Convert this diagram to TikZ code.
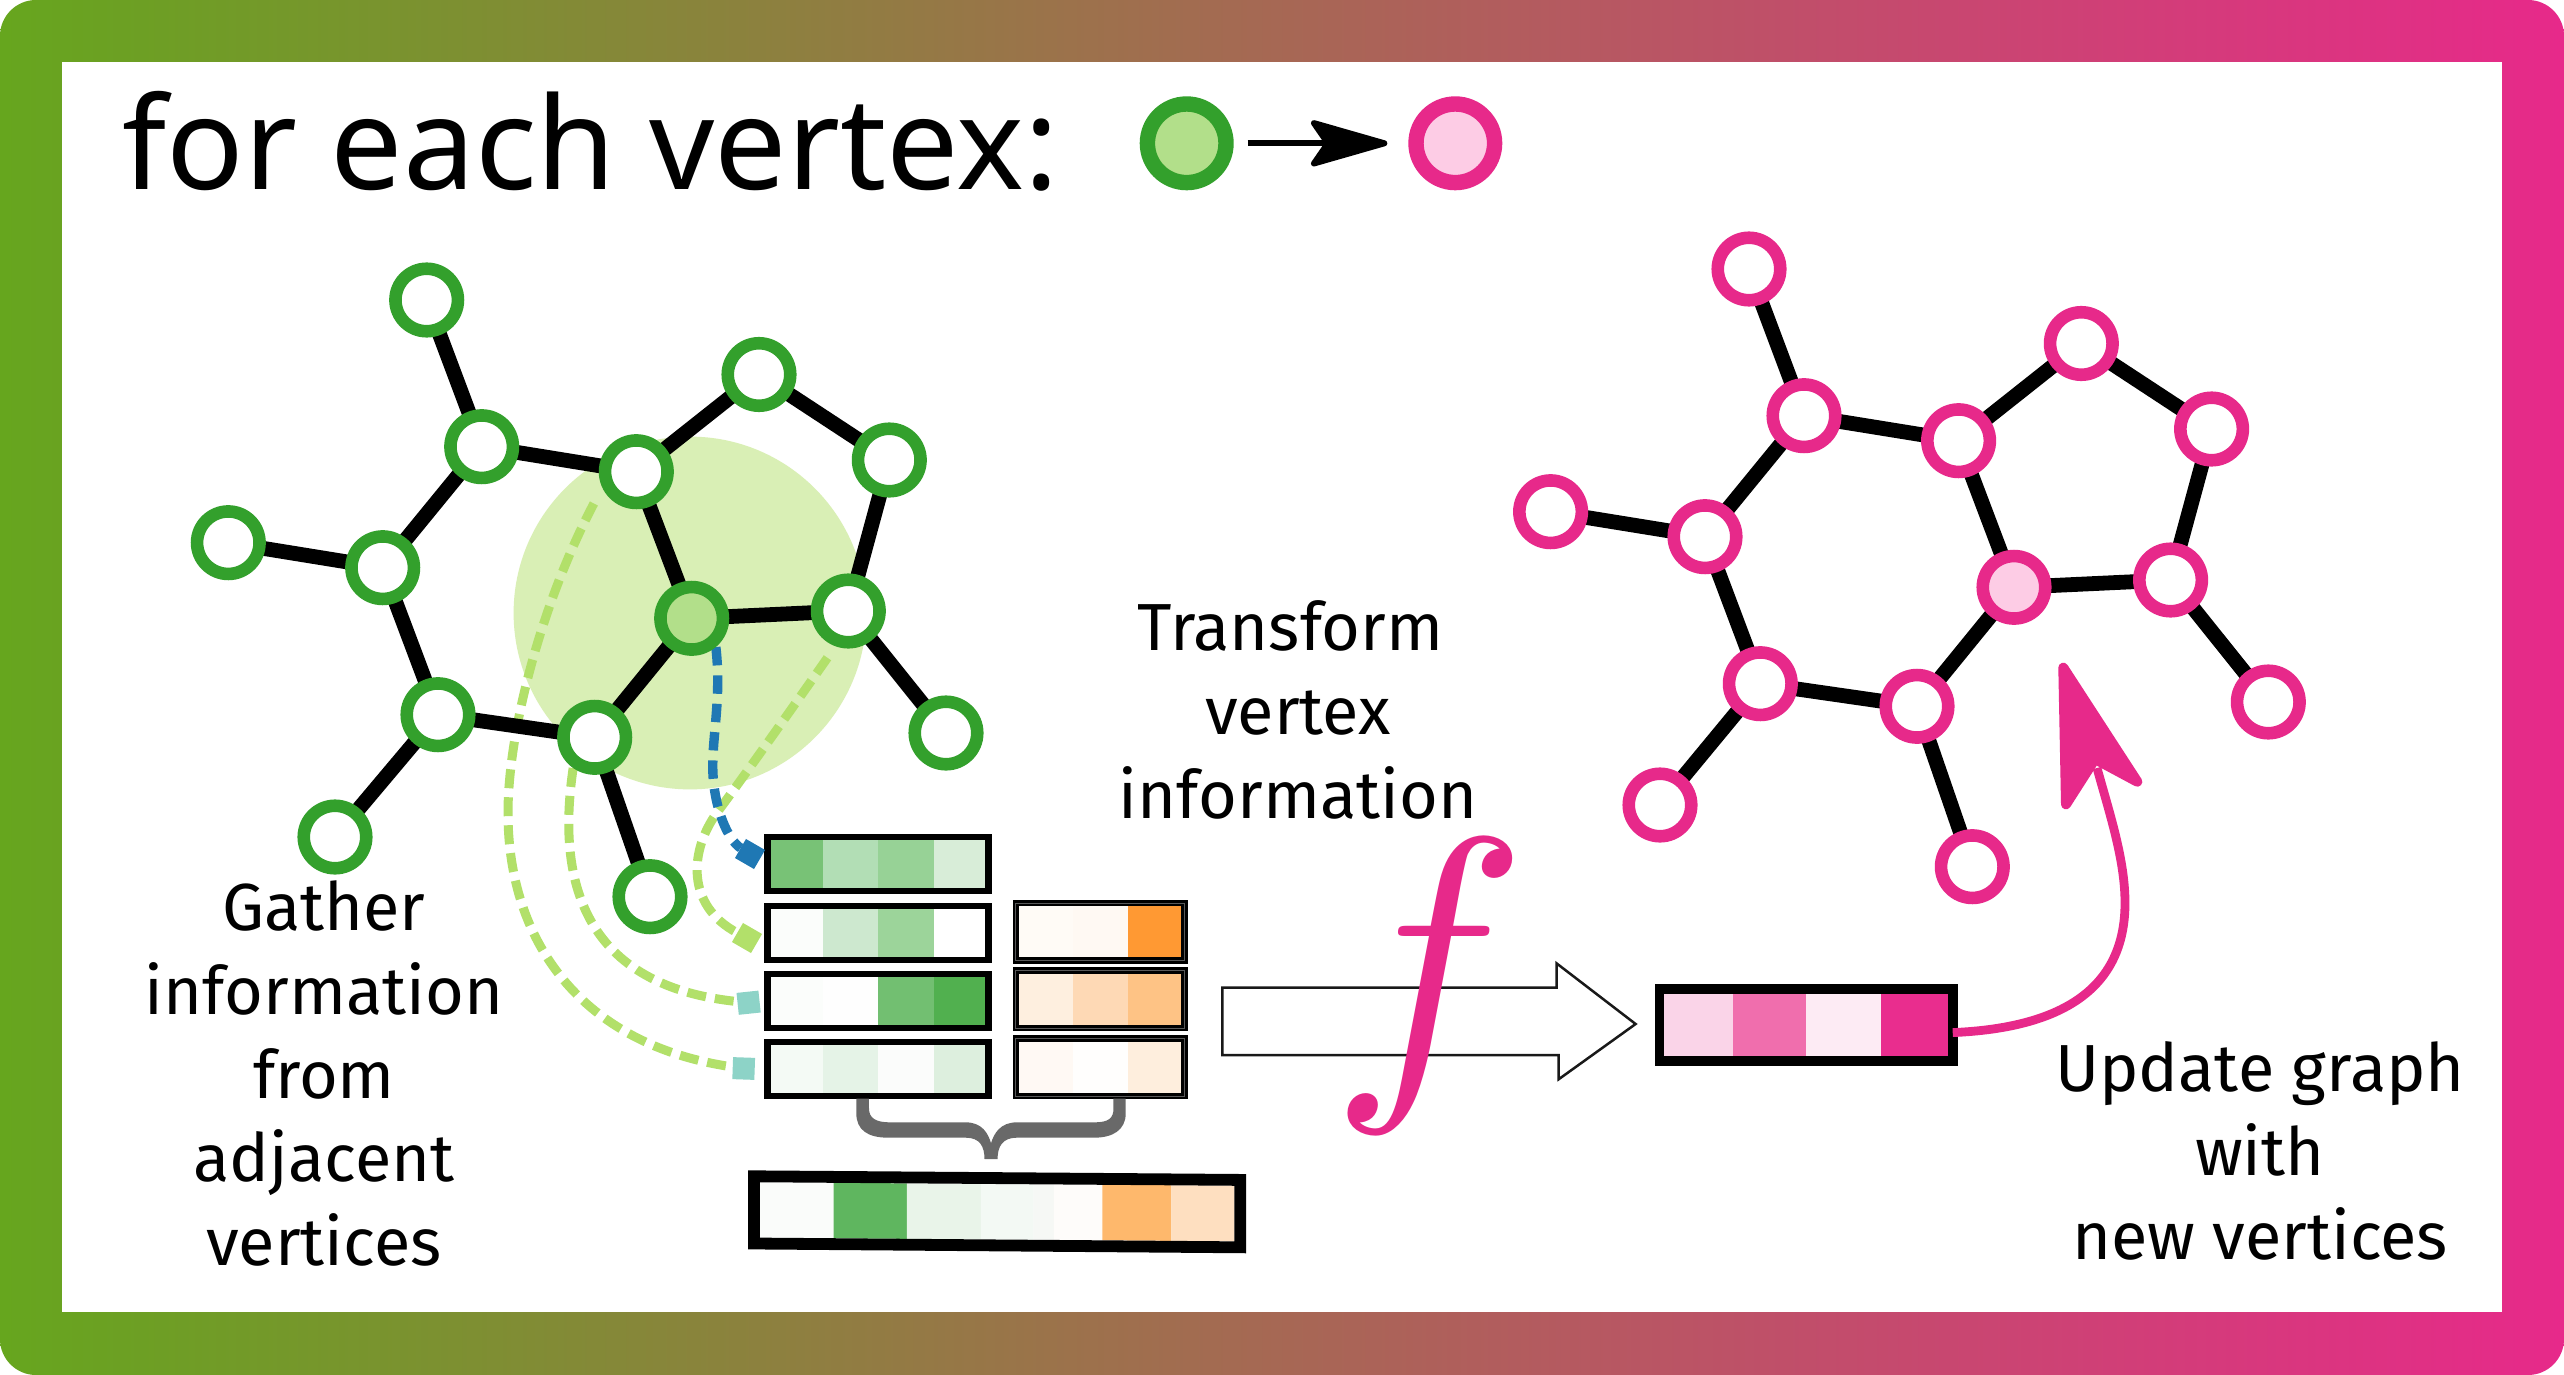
\documentclass[tikz,border=0pt]{standalone}
\usepackage{fontspec}
\setmainfont{Fira Sans}
\newfontfamily\titlefont{Noto Sans}
\usetikzlibrary{arrows.meta}
\definecolor{framegreen}{HTML}{66A61E}
\definecolor{pinkc}{HTML}{E7298A}
\definecolor{greenc}{HTML}{33A02C}
\definecolor{lightg}{HTML}{B2DF8A}
\definecolor{dashg}{HTML}{B2E06A}
\definecolor{lightp}{HTML}{FDCCE5}
\definecolor{haloc}{HTML}{D9EFB5}
\definecolor{bluec}{HTML}{1F78B4}
\definecolor{tealc}{HTML}{8DD3C7}
\definecolor{bracec}{HTML}{696969}
\definecolor{tmpc}{HTML}{FFFFFF}
\pgfdeclarelayer{under}
\pgfdeclarelayer{mid}
\pgfsetlayers{under,mid,main}
\newcommand\vcell[5]{\definecolor{tmpc}{HTML}{#5}\fill[tmpc] (#1,#3) rectangle (#2,#4);}
\newcommand\skewcell[3]{\definecolor{tmpc}{HTML}{#3}\fill[tmpc]
  ({#1},{1182.3+(#1-759.6)*0.00716}) -- ({#2},{1182.3+(#2-759.6)*0.00716}) --
  ({#2},{1237.7+(#2-759.6)*0.00758}) -- ({#1},{1237.7+(#1-759.6)*0.00758}) -- cycle;}
\tikzset{
  x=0.5pt,y=-0.5pt,
  gv/.style={circle,draw=greenc,line width=6.3pt,fill=white,minimum size=31.25pt,inner sep=0pt},
  gvc/.style={gv,fill=lightg},
  pv/.style={circle,draw=pinkc,line width=6.3pt,fill=white,minimum size=31.25pt,inner sep=0pt},
  pvc/.style={pv,fill=lightp},
  legg/.style={circle,draw=greenc,line width=7.7pt,fill=lightg,minimum size=39.3pt,inner sep=0pt},
  legp/.style={circle,draw=pinkc,line width=7.7pt,fill=lightp,minimum size=39.3pt,inner sep=0pt},
  bond/.style={draw=black,line width=7.4pt},
  gdash/.style={draw=dashg,line width=4.5pt,dash pattern=on 9.5pt off 4.5pt},
  bdash/.style={draw=bluec,line width=4.7pt,dash pattern=on 9.2pt off 5pt},
  endsq/.style={rectangle,minimum size=11pt,inner sep=0pt,outer sep=0pt},
  vbox/.style={rectangle,draw=black,line width=3.1pt,inner sep=0pt,outer sep=0pt,fill=none},
  wbox/.style={rectangle,draw=black,line width=1.4pt,double=black!65,double distance=0.35pt,inner sep=0pt,outer sep=0pt,fill=none},
  lab/.style={align=center,font=\fontsize{33.3}{41.8}\selectfont,inner sep=0pt},
}
\begin{document}
\begin{tikzpicture}
\useasboundingbox (0,0) rectangle (2564,1375);
% frame
\begin{pgfonlayer}{under}
\shade[left color=framegreen,right color=pinkc,rounded corners=18pt] (0,0) rectangle (2564,1375);
\fill[white] (62.3,62.3) rectangle (2502,1312);
\fill[haloc] (690,613) circle [radius=88.2pt];
\end{pgfonlayer}
% title and legend
\node[font=\titlefont\fontsize{64.2}{70}\selectfont,anchor=base west,inner sep=0pt] (title) at (122,189.5) {for each vertex:};
\node[legg] (legA) at (1186.7,143.3) {};
\node[legp] (legB) at (1455.3,143.3) {};
\draw[line width=3pt,shorten <=7pt,shorten >=10.5pt,-{Stealth[length=44pt,width=25pt,inset=8.5pt,round]}] (legA) -- (legB);
% left graph
\node[gv] (a) at (426.7,300) {};
\node[gv] (b) at (481.7,446.7) {};
\node[gv] (c) at (636.3,471.7) {};
\node[gv] (d) at (759,374.5) {};
\node[gv] (e) at (889.3,460) {};
\node[gvc] (f) at (691.7,618.3) {};
\node[gv] (g) at (848.3,611) {};
\node[gv] (h) at (946,733) {};
\node[gv] (i) at (594.7,737.3) {};
\node[gv] (j) at (438,714.7) {};
\node[gv] (k) at (382.7,567.7) {};
\node[gv] (l) at (228.3,542.7) {};
\node[gv] (m) at (335,837) {};
\node[gv] (n) at (650,896.7) {};
% right graph
\node[pv] (ra) at (1749,269) {};
\node[pv] (rb) at (1804,415.7) {};
\node[pv] (rc) at (1958.6,440.7) {};
\node[pv] (rd) at (2081.3,343.5) {};
\node[pv] (re) at (2211.6,429) {};
\node[pvc] (rf) at (2014,587.3) {};
\node[pv] (rg) at (2170.6,580) {};
\node[pv] (rh) at (2268.3,702) {};
\node[pv] (ri) at (1917,706.3) {};
\node[pv] (rj) at (1760.3,683.7) {};
\node[pv] (rk) at (1705,536.7) {};
\node[pv] (rl) at (1550.6,511.7) {};
\node[pv] (rm) at (1660,805) {};
\node[pv] (rn) at (1972.3,866.7) {};
% vectors, left column
\vcell{770.6}{822.9}{840}{888}{78C276}\vcell{822.9}{878.4}{840}{888}{B2DEB5}\vcell{878.4}{933.5}{840}{888}{97D296}\vcell{933.5}{985.3}{840}{888}{D8EDD8}
\node[vbox,minimum width=110.5pt,minimum height=27pt] (v1) at (878,864.3) {};
\vcell{770.6}{822.9}{909}{958}{FBFDFB}\vcell{822.9}{878.4}{909}{958}{CDE8CF}\vcell{878.4}{933.5}{909}{958}{9CD49A}\vcell{933.5}{985.3}{909}{958}{FFFFFF}
\node[vbox,minimum width=110.5pt,minimum height=27pt] (v2) at (878,933.3) {};
\vcell{770.6}{822.9}{977}{1025}{FBFDFB}\vcell{822.9}{878.4}{977}{1025}{FEFEFE}\vcell{878.4}{933.5}{977}{1025}{72BF71}\vcell{933.5}{985.3}{977}{1025}{51B04F}
\node[vbox,minimum width=110.5pt,minimum height=27pt] (v3) at (878,1001) {};
\vcell{770.6}{822.9}{1045}{1093}{F4FAF5}\vcell{822.9}{878.4}{1045}{1093}{E5F3E7}\vcell{878.4}{933.5}{1045}{1093}{FBFCFB}\vcell{933.5}{985.3}{1045}{1093}{DDEFDE}
\node[vbox,minimum width=110.5pt,minimum height=27pt] (v4) at (878,1068.7) {};
% vectors, right column
\vcell{1019.2}{1073}{906}{958}{FFFBF6}\vcell{1073}{1128.2}{906}{958}{FFF9F3}\vcell{1128.2}{1181.2}{906}{958}{FF9933}
\node[wbox,minimum width=84.4pt,minimum height=28.7pt] (w1) at (1100.2,931.7) {};
\vcell{1019.2}{1073}{974}{1025}{FEEFDF}\vcell{1073}{1128.2}{974}{1025}{FED9B5}\vcell{1128.2}{1181.2}{974}{1025}{FEC385}
\node[wbox,minimum width=84.4pt,minimum height=28.7pt] (w2) at (1100.2,999.2) {};
\vcell{1019.2}{1073}{1042}{1093}{FFF9F4}\vcell{1073}{1128.2}{1042}{1093}{FFFEFD}\vcell{1128.2}{1181.2}{1042}{1093}{FEEEDD}
\node[wbox,minimum width=84.4pt,minimum height=28.7pt] (w3) at (1100.2,1067.2) {};
% brace
\begin{scope}[shift={(680,780)},x=0.20408pt,y=-0.16667pt]
\fill[bracec] (432,956) -- (463,956) -- (463,985) .. controls (463,1015) and (480,1027) .. (515,1027)
 -- (700,1027) .. controls (740,1027) and (755,1060) .. (762,1090)
 .. controls (769,1060) and (785,1027) .. (825,1027) -- (1015,1027)
 .. controls (1050,1027) and (1062,1015) .. (1062,985) -- (1062,956) -- (1092,956) -- (1092,1000)
 .. controls (1092,1050) and (1060,1073) .. (1015,1073) -- (825,1073)
 .. controls (790,1073) and (778,1100) .. (778,1137) -- (746,1137)
 .. controls (746,1100) and (735,1073) .. (700,1073) -- (510,1073)
 .. controls (460,1073) and (432,1050) .. (432,1000) -- cycle;
\end{scope}
% merged vector
\skewcell{759.6}{833.5}{FAFCFA}\skewcell{833.5}{906.9}{5FB65F}\skewcell{906.9}{980.8}{E9F4E9}\skewcell{980.8}{1033.5}{F3F9F4}\skewcell{1033.5}{1053.9}{F6F8F5}\skewcell{1053.9}{1102.4}{FEFCFA}\skewcell{1102.4}{1171.4}{FEB86C}\skewcell{1171.4}{1234.3}{FEDFC0}
\draw[line width=5.9pt] (754,1176.3) -- (1240.2,1179.9) -- (1240.2,1247.3) -- (754,1243.5) -- cycle;
% dashed connectors and bonds, beneath the vertices
\node[endsq,fill=bluec,rotate=-30] (s1) at (750,854) {};
\node[endsq,fill=dashg,rotate=-30] (s2) at (747,938) {};
\node[endsq,fill=tealc,rotate=6] (s3) at (748.6,1002.7) {};
\node[endsq,fill=tealc,rotate=-2] (s4) at (743.7,1068.5) {};
\begin{pgfonlayer}{mid}
\draw[gdash,shorten <=9pt] (c.205) .. controls (542,602) and (508,730) .. (508,813) .. controls (508,940) and (580,1045) .. (s4);
\draw[gdash] (i.235) .. controls (558,870) and (575,985) .. (s3);
\draw[gdash,shorten <=7pt] (g.250) .. controls (805,690) and (745,775) .. (716.7,813) .. controls (690,850) and (685,905) .. (s2);
\draw[bdash] (f.310) .. controls (722,700) and (711,740) .. (713,775) .. controls (715,810) and (728,840) .. (s1);
\foreach \p/\q in {a/b,b/c,c/d,d/e,e/g,g/f,f/c,f/i,i/j,j/k,k/b,k/l,j/m,i/n,g/h,ra/rb,rb/rc,rc/rd,rd/re,re/rg,rg/rf,rf/rc,rf/ri,ri/rj,rj/rk,rk/rb,rk/rl,rj/rm,ri/rn,rg/rh}
  \draw[bond] (\p.center) -- (\q.center);
\end{pgfonlayer}
% transform arrow and f
\draw[fill=white,draw=black!90,line width=1.25pt] (1222.3,987.7) -- (1556.5,987.7) -- (1556.5,963.3) -- (1635.6,1024) -- (1558.6,1079.3) -- (1558.6,1055) -- (1222.3,1055) -- cycle;
\node[text=pinkc,scale=16.5,inner sep=0pt] (fn) at (1429,986) {$f$};
% output vector
\vcell{1663.2}{1732.6}{993}{1057}{FAD4E8}\vcell{1732.6}{1806}{993}{1057}{F06EAD}\vcell{1806}{1880.5}{993}{1057}{FDEBF4}\vcell{1880.5}{1948.4}{993}{1057}{E92D8E}
\node[vbox,line width=4.8pt,minimum width=146.7pt,minimum height=36.1pt] (pv) at (1806,1024.9) {};
\coordinate (head) at (2097,768);
\draw[pinkc,line width=4.4pt] (pv.-3.4) .. controls (2060,1028) and (2125,990) .. (2125,903) .. controls (2125,860) and (2110,815) .. (head);
\fill[pinkc,draw=pinkc,line width=5pt,line join=round] (2063.3,667.7) -- (2137.3,781.7) -- (2095,759) -- (2066,804.3) -- cycle;
% labels
\node[lab] (tg) at (324,1073.5) {Gather\\information\\from\\adjacent\\vertices};
\node[lab] (tt) at (1298,710) {Transform\hspace*{7.5pt}\\vertex\hspace*{21pt}\\information};
\node[lab] (tu) at (2260,1151) {Update graph\\with\\new vertices};
\end{tikzpicture}
\end{document}
